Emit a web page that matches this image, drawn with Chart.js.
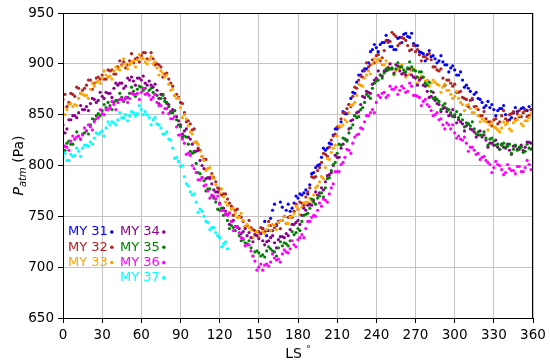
<!DOCTYPE html>
<html>
<head>
<meta charset="utf-8">
<script src="https://cdn.jsdelivr.net/npm/chart.js@4"></script>
<style>
  html, body { margin: 0; padding: 0; background: #fff; }
  #wrap { width: 550px; height: 364px; }
</style>
</head>
<body>
<div id="wrap"><canvas id="patmChart"></canvas></div>
<script>
// Pression atmosphérique (Pa) en fonction de Ls, une série par année martienne.
// Valeurs relevées à l'oeil sur la figure : un premier relevé tous les 3° de Ls,
// un second relevé (suffixe b) décalé de 1.5° pour rendre l'épaisseur du nuage de points.

const lsFull = [
  0, 3, 6, 9, 12, 15, 18, 21, 24, 27,
  30, 33, 36, 39, 42, 45, 48, 51, 54, 57,
  60, 63, 66, 69, 72, 75, 78, 81, 84, 87,
  90, 93, 96, 99, 102, 105, 108, 111, 114, 117,
  120, 123, 126, 129, 132, 135, 138, 141, 144, 147,
  150, 153, 156, 159, 162, 165, 168, 171, 174, 177,
  180, 183, 186, 189, 192, 195, 198, 201, 204, 207,
  210, 213, 216, 219, 222, 225, 228, 231, 234, 237,
  240, 243, 246, 249, 252, 255, 258, 261, 264, 267,
  270, 273, 276, 279, 282, 285, 288, 291, 294, 297,
  300, 303, 306, 309, 312, 315, 318, 321, 324, 327,
  330, 333, 336, 339, 342, 345, 348, 351, 354, 357,
  360,
];

const lsFullB = [
  1.5, 4.5, 7.5, 10.5, 13.5, 16.5, 19.5, 22.5, 25.5, 28.5,
  31.5, 34.5, 37.5, 40.5, 43.5, 46.5, 49.5, 52.5, 55.5, 58.5,
  61.5, 64.5, 67.5, 70.5, 73.5, 76.5, 79.5, 82.5, 85.5, 88.5,
  91.5, 94.5, 97.5, 100.5, 103.5, 106.5, 109.5, 112.5, 115.5, 118.5,
  121.5, 124.5, 127.5, 130.5, 133.5, 136.5, 139.5, 142.5, 145.5, 148.5,
  151.5, 154.5, 157.5, 160.5, 163.5, 166.5, 169.5, 172.5, 175.5, 178.5,
  181.5, 184.5, 187.5, 190.5, 193.5, 196.5, 199.5, 202.5, 205.5, 208.5,
  211.5, 214.5, 217.5, 220.5, 223.5, 226.5, 229.5, 232.5, 235.5, 238.5,
  241.5, 244.5, 247.5, 250.5, 253.5, 256.5, 259.5, 262.5, 265.5, 268.5,
  271.5, 274.5, 277.5, 280.5, 283.5, 286.5, 289.5, 292.5, 295.5, 298.5,
  301.5, 304.5, 307.5, 310.5, 313.5, 316.5, 319.5, 322.5, 325.5, 328.5,
  331.5, 334.5, 337.5, 340.5, 343.5, 346.5, 349.5, 352.5, 355.5, 358.5,
];

// MY 31 ne commence qu'après Ls 150
const ls31 = [
  153, 156, 159, 162, 165, 168, 171, 174, 177,
  180, 183, 186, 189, 192, 195, 198, 201, 204, 207,
  210, 213, 216, 219, 222, 225, 228, 231, 234, 237,
  240, 243, 246, 249, 252, 255, 258, 261, 264, 267,
  270, 273, 276, 279, 282, 285, 288, 291, 294, 297,
  300, 303, 306, 309, 312, 315, 318, 321, 324, 327,
  330, 333, 336, 339, 342, 345, 348, 351, 354, 357,
  360,
];

const ls31B = [
  154.5, 157.5, 160.5, 163.5, 166.5, 169.5, 172.5, 175.5, 178.5,
  181.5, 184.5, 187.5, 190.5, 193.5, 196.5, 199.5, 202.5, 205.5, 208.5,
  211.5, 214.5, 217.5, 220.5, 223.5, 226.5, 229.5, 232.5, 235.5, 238.5,
  241.5, 244.5, 247.5, 250.5, 253.5, 256.5, 259.5, 262.5, 265.5, 268.5,
  271.5, 274.5, 277.5, 280.5, 283.5, 286.5, 289.5, 292.5, 295.5, 298.5,
  301.5, 304.5, 307.5, 310.5, 313.5, 316.5, 319.5, 322.5, 325.5, 328.5,
  331.5, 334.5, 337.5, 340.5, 343.5, 346.5, 349.5, 352.5, 355.5, 358.5,
];

// MY 37 s'arrête vers Ls 126
const ls37 = [
  0, 3, 6, 9, 12, 15, 18, 21, 24, 27,
  30, 33, 36, 39, 42, 45, 48, 51, 54, 57,
  60, 63, 66, 69, 72, 75, 78, 81, 84, 87,
  90, 93, 96, 99, 102, 105, 108, 111, 114, 117,
  120, 123, 126,
];

const ls37B = [
  1.5, 4.5, 7.5, 10.5, 13.5, 16.5, 19.5, 22.5, 25.5, 28.5,
  31.5, 34.5, 37.5, 40.5, 43.5, 46.5, 49.5, 52.5, 55.5, 58.5,
  61.5, 64.5, 67.5, 70.5, 73.5, 76.5, 79.5, 82.5, 85.5, 88.5,
  91.5, 94.5, 97.5, 100.5, 103.5, 106.5, 109.5, 112.5, 115.5, 118.5,
  121.5, 124.5,
];

const my31 = [
  738, 731, 748, 762, 745, 759, 756, 755, 763,
  768, 771, 776, 781, 793, 800, 808, 815, 822, 830,
  836, 843, 851, 860, 872, 882, 889, 895, 901, 914,
  916, 919, 921, 923, 917, 914, 926, 929, 927, 930,
  918, 912, 910, 909, 907, 905, 903, 902, 899, 896,
  894, 889, 884, 879, 873, 870, 866, 862, 859, 857,
  855, 854, 856, 850, 845, 852, 853, 856, 855, 858,
  860,
];
const my31b = [
  745, 736, 756, 741, 764, 750, 762, 758, 770,
  772, 773, 772, 792, 798, 801, 817, 817, 821, 836,
  838, 853, 851, 866, 871, 889, 893, 895, 912, 919,
  912, 921, 928, 917, 914, 925, 921, 930, 926, 920,
  918, 911, 903, 913, 908, 901, 908, 899, 892, 898,
  889, 892, 877, 876, 865, 872, 865, 857, 863, 860,
  849, 856, 859, 844, 847, 857, 848, 857, 854, 855,
];

const my32 = [
  865, 858, 871, 868, 876, 874, 879, 884, 881, 887,
  889, 885, 893, 890, 897, 899, 896, 903, 901, 906,
  908, 911, 904, 905, 900, 897, 890, 885, 878, 870,
  862, 852, 844, 835, 823, 815, 806, 797, 792, 784,
  777, 772, 767, 760, 756, 750, 745, 741, 739, 736,
  735, 738, 736, 741, 739, 744, 746, 743, 750, 755,
  757, 763, 769, 778, 788, 795, 803, 811, 818, 829,
  838, 846, 852, 860, 868, 876, 888, 893, 897, 904,
  908, 903, 913, 921, 931, 927, 920, 925, 918, 914,
  912, 909, 907, 905, 904, 897, 893, 886, 884, 881,
  880, 872, 867, 865, 864, 858, 855, 849, 846, 843,
  845, 841, 849, 846, 850, 853, 851, 848, 854, 849,
  850,
];
const my32b = [
  870, 862, 870, 877, 871, 876, 884, 875, 886, 885,
  885, 894, 894, 890, 903, 902, 899, 910, 905, 902,
  911, 905, 911, 899, 899, 887, 891, 881, 869, 867,
  861, 843, 841, 836, 817, 809, 806, 787, 788, 778,
  771, 772, 763, 751, 757, 749, 740, 746, 737, 731,
  739, 735, 745, 736, 742, 738, 750, 749, 749, 762,
  764, 761, 774, 789, 789, 798, 812, 809, 825, 831,
  838, 852, 856, 858, 877, 884, 887, 901, 899, 901,
  909, 906, 923, 922, 929, 918, 926, 923, 913, 918,
  914, 903, 907, 910, 897, 894, 895, 879, 884, 878,
  872, 873, 866, 858, 866, 858, 849, 853, 843, 839,
  846, 843, 854, 844, 851, 846, 854, 852, 848, 855,
];

const my33 = [
  857, 855, 861, 860, 866, 870, 869, 875, 878, 883,
  886, 889, 888, 893, 895, 898, 900, 899, 903, 904,
  906, 902, 904, 900, 896, 893, 887, 880, 875, 866,
  857, 850, 839, 831, 823, 814, 805, 797, 790, 781,
  773, 769, 761, 757, 753, 749, 746, 742, 737, 733,
  730, 735, 737, 736, 741, 744, 746, 743, 749, 753,
  757, 759, 764, 768, 771, 780, 789, 798, 806, 817,
  829, 838, 845, 852, 860, 869, 879, 886, 893, 900,
  902, 905, 899, 897, 895, 893, 896, 891, 889, 893,
  888, 886, 887, 884, 881, 882, 879, 877, 874, 870,
  868, 866, 860, 859, 856, 852, 849, 846, 843, 840,
  838, 835, 837, 840, 836, 842, 845, 841, 844, 847,
  845,
];
const my33b = [
  850, 860, 858, 859, 871, 869, 866, 881, 882, 881,
  893, 887, 885, 897, 894, 905, 895, 901, 897, 909,
  905, 900, 907, 902, 889, 891, 889, 874, 869, 866,
  847, 846, 833, 823, 821, 809, 795, 798, 787, 774,
  777, 764, 754, 758, 749, 753, 740, 739, 729, 735,
  733, 733, 741, 742, 737, 746, 750, 743, 750, 760,
  752, 763, 764, 765, 778, 784, 787, 807, 813, 820,
  839, 840, 843, 859, 862, 880, 878, 889, 890, 905,
  904, 899, 903, 900, 889, 895, 899, 887, 890, 895,
  881, 888, 883, 878, 884, 880, 872, 880, 874, 866,
  873, 862, 854, 860, 852, 856, 843, 844, 835, 843,
  837, 833, 843, 842, 834, 844, 849, 839, 844, 851,
];

const my34 = [
  840, 836, 845, 849, 852, 855, 858, 861, 865, 864,
  868, 872, 871, 876, 879, 881, 878, 884, 883, 886,
  884, 881, 883, 877, 874, 870, 866, 860, 855, 848,
  840, 834, 828, 821, 814, 805, 797, 788, 782, 774,
  763, 758, 752, 745, 740, 738, 735, 731, 729, 732,
  728, 726, 725, 729, 724, 727, 730, 733, 737, 742,
  746, 751, 756, 762, 766, 771, 778, 784, 791, 800,
  808, 817, 826, 836, 845, 852, 860, 867, 872, 880,
  886, 889, 893, 896, 895, 899, 893, 891, 895, 889,
  886, 884, 879, 873, 868, 864, 860, 856, 853, 850,
  848, 845, 841, 839, 836, 833, 830, 828, 825, 822,
  820, 818, 821, 817, 815, 819, 816, 820, 818, 823,
  822,
];
const my34b = [
  832, 845, 849, 847, 859, 855, 854, 866, 862, 872,
  866, 871, 867, 881, 881, 876, 886, 887, 879, 886,
  888, 879, 879, 880, 866, 870, 861, 853, 854, 844,
  831, 836, 826, 814, 815, 800, 787, 788, 776, 774,
  756, 755, 742, 746, 740, 733, 738, 734, 725, 731,
  733, 722, 726, 731, 719, 730, 729, 731, 742, 744,
  742, 758, 761, 761, 774, 773, 776, 790, 793, 810,
  808, 821, 825, 844, 849, 853, 868, 873, 871, 884,
  893, 888, 893, 900, 891, 898, 890, 889, 895, 887,
  879, 886, 878, 867, 872, 861, 853, 857, 849, 855,
  842, 843, 834, 841, 835, 828, 834, 830, 818, 822,
  825, 816, 818, 821, 811, 819, 816, 815, 823, 822,
];

const my35 = [
  818, 822, 821, 826, 829, 831, 834, 840, 845, 851,
  854, 857, 859, 862, 864, 867, 866, 871, 873, 875,
  877, 876, 874, 872, 869, 866, 863, 858, 852, 845,
  838, 829, 821, 812, 802, 792, 785, 777, 770, 764,
  756, 751, 746, 741, 736, 731, 727, 723, 719, 715,
  714, 712, 716, 718, 715, 719, 721, 723, 726, 732,
  738, 745, 752, 758, 764, 768, 773, 778, 788, 801,
  812, 820, 826, 832, 840, 847, 855, 862, 868, 876,
  883, 889, 891, 894, 896, 895, 897, 894, 896, 897,
  893, 892, 887, 879, 873, 867, 863, 859, 856, 852,
  850, 847, 845, 842, 839, 836, 833, 830, 827, 826,
  824, 821, 820, 818, 821, 816, 815, 818, 814, 817,
  818,
];
const my35b = [
  815, 824, 821, 833, 826, 832, 831, 846, 849, 849,
  860, 862, 855, 864, 871, 863, 867, 877, 868, 878,
  874, 871, 876, 870, 861, 869, 862, 852, 854, 840,
  828, 828, 814, 813, 793, 788, 775, 777, 768, 757,
  758, 752, 738, 739, 739, 726, 724, 726, 711, 716,
  711, 710, 720, 716, 711, 725, 724, 721, 735, 734,
  736, 751, 753, 767, 762, 770, 769, 787, 795, 803,
  821, 827, 824, 837, 849, 848, 857, 870, 866, 881,
  884, 886, 895, 895, 890, 901, 897, 892, 902, 894,
  887, 892, 881, 882, 866, 865, 855, 861, 855, 848,
  853, 850, 838, 841, 843, 831, 830, 833, 820, 827,
  820, 816, 822, 819, 812, 820, 818, 813, 821, 816,
];

const my36 = [
  820, 818, 824, 826, 829, 830, 834, 838, 843, 847,
  851, 855, 857, 860, 862, 865, 867, 866, 870, 871,
  872, 870, 869, 867, 862, 859, 856, 851, 846, 838,
  830, 822, 812, 800, 793, 786, 780, 775, 771, 767,
  762, 756, 751, 745, 740, 734, 728, 722, 716, 706,
  700, 697, 703, 705, 709, 708, 713, 715, 718, 722,
  727, 732, 738, 745, 751, 756, 760, 766, 772, 782,
  794, 801, 808, 815, 822, 830, 837, 843, 849, 855,
  862, 867, 872, 869, 875, 877, 874, 876, 873, 878,
  869, 867, 863, 860, 854, 850, 845, 840, 842, 836,
  832, 829, 825, 822, 818, 815, 812, 808, 805, 801,
  798, 801, 796, 793, 797, 795, 799, 794, 798, 801,
  800,
];
const my36b = [
  819, 815, 829, 828, 826, 837, 840, 835, 846, 855,
  850, 855, 863, 855, 865, 864, 862, 871, 870, 865,
  876, 871, 865, 870, 859, 852, 856, 846, 848, 830,
  826, 811, 810, 797, 786, 788, 781, 768, 770, 770,
  756, 752, 753, 736, 739, 729, 721, 722, 711, 697,
  703, 702, 701, 713, 707, 705, 717, 714, 726, 720,
  729, 729, 745, 749, 750, 763, 767, 764, 778, 794,
  794, 803, 816, 812, 828, 831, 836, 849, 852, 852,
  869, 871, 867, 878, 875, 870, 878, 872, 881, 869,
  868, 859, 865, 858, 849, 852, 846, 836, 840, 840,
  827, 826, 828, 814, 818, 811, 806, 809, 803, 793,
  804, 800, 791, 801, 795, 792, 799, 794, 805, 796,
];

const my37 = [
  808, 805, 811, 810, 814, 817, 820, 823, 827, 831,
  834, 837, 840, 842, 845, 847, 850, 849, 852, 851,
  855, 853, 847, 845, 841, 837, 831, 826, 817, 808,
  799, 789, 780, 771, 764, 757, 750, 744, 739, 734,
  729, 723, 718,
];
const my37b = [
  812, 805, 809, 817, 809, 820, 819, 821, 832, 832,
  829, 843, 843, 840, 852, 847, 844, 853, 849, 859,
  850, 850, 840, 847, 840, 831, 833, 825, 807, 804,
  800, 782, 774, 772, 754, 755, 745, 737, 739, 731,
  720, 725,
];

const xTicks = [0, 30, 60, 90, 120, 150, 180, 210, 240, 270, 300, 330, 360];
const yTicks = [650, 700, 750, 800, 850, 900, 950];

const FONT = "'DejaVu Sans', sans-serif";

const series = [
  { label: 'MY 31', color: '#0000ff', ls: ls31,   values: my31, lsB: ls31B,   valuesB: my31b },
  { label: 'MY 32', color: '#b22222', ls: lsFull, values: my32, lsB: lsFullB, valuesB: my32b },
  { label: 'MY 33', color: '#ffa500', ls: lsFull, values: my33, lsB: lsFullB, valuesB: my33b },
  { label: 'MY 34', color: '#8b008b', ls: lsFull, values: my34, lsB: lsFullB, valuesB: my34b },
  { label: 'MY 35', color: '#008000', ls: lsFull, values: my35, lsB: lsFullB, valuesB: my35b },
  { label: 'MY 36', color: '#ff00ff', ls: lsFull, values: my36, lsB: lsFullB, valuesB: my36b },
  { label: 'MY 37', color: '#00ffff', ls: ls37,   values: my37, lsB: ls37B,   valuesB: my37b },
];

// Chart.js dessine le premier dataset au-dessus : on inverse pour que MY 37 soit devant
const datasets = series.map((s, i) => ({
  label: s.label,
  data: [
    ...s.ls.map((x, j) => ({ x, y: s.values[j] })),
    ...s.lsB.map((x, j) => ({ x, y: s.valuesB[j] })),
  ],
  backgroundColor: s.color,
  borderWidth: 0,
  pointRadius: 1.6,
  pointHoverRadius: 0,
  order: series.length - i,
}));

// --- cadre complet, légende en deux colonnes, titres avec indice / exposant ---
const decorations = {
  id: 'decorations',
  afterDatasetsDraw(chart) {
    const { ctx, chartArea: a } = chart;
    ctx.save();

    ctx.strokeStyle = '#000';
    ctx.lineWidth = 1;
    ctx.strokeRect(Math.round(a.left) + 0.5, Math.round(a.top) + 0.5,
                   Math.round(a.right - a.left) - 1, Math.round(a.bottom - a.top));

    // légende : MY 31-33 à gauche, MY 34-37 à droite
    ctx.font = `13px ${FONT}`;
    ctx.textBaseline = 'middle';
    series.forEach((s, i) => {
      const col = i < 3 ? 0 : 1;
      const row = i < 3 ? i : i - 3;
      const x = a.left + 5 + col * 52;
      const y = a.top + 219 + row * 15.3;
      ctx.fillStyle = s.color;
      ctx.fillText(s.label, x, y);
      const w = ctx.measureText(s.label).width;
      ctx.beginPath();
      ctx.arc(x + w + 4, y, 1.8, 0, Math.PI * 2);
      ctx.fill();
    });

    // titre axe y : P_atm (Pa)
    ctx.fillStyle = '#000';
    ctx.textBaseline = 'alphabetic';
    ctx.translate(18, (a.top + a.bottom) / 2);
    ctx.rotate(-Math.PI / 2);
    ctx.font = `italic 14px ${FONT}`;
    const wP = ctx.measureText('P').width;
    ctx.font = `italic 10px ${FONT}`;
    const wSub = ctx.measureText('atm').width;
    ctx.font = `14px ${FONT}`;
    const wRest = ctx.measureText(' (Pa)').width;
    let tx = -(wP + wSub + wRest) / 2;
    ctx.font = `italic 14px ${FONT}`;
    ctx.fillText('P', tx, 5);
    tx += wP;
    ctx.font = `italic 10px ${FONT}`;
    ctx.fillText('atm', tx, 8);
    tx += wSub;
    ctx.font = `14px ${FONT}`;
    ctx.fillText(' (Pa)', tx, 5);
    ctx.restore();

    // titre axe x : LS°
    ctx.save();
    ctx.fillStyle = '#000';
    ctx.font = `14px ${FONT}`;
    const wLs = ctx.measureText('LS ').width;
    ctx.font = `9px ${FONT}`;
    const wDeg = ctx.measureText('°').width;
    const cx = (a.left + a.right) / 2 - (wLs + wDeg) / 2;
    ctx.font = `14px ${FONT}`;
    ctx.fillText('LS ', cx, 358);
    ctx.font = `9px ${FONT}`;
    ctx.fillText('°', cx + wLs, 352);
    ctx.restore();
  },
};

const tickFont = { family: FONT, size: 13.5 };

new Chart(document.getElementById('patmChart'), {
  type: 'scatter',
  data: { datasets },
  options: {
    responsive: true,
    maintainAspectRatio: false,
    animation: false,
    events: [],
    layout: { padding: { top: 13, right: 17, left: 0, bottom: 0 } },
    plugins: { legend: { display: false }, tooltip: { enabled: false } },
    scales: {
      x: {
        type: 'linear',
        min: 0,
        max: 360,
        afterBuildTicks: (scale) => { scale.ticks = xTicks.map((v) => ({ value: v })); },
        afterFit: (scale) => { scale.height = 46; },
        ticks: { color: '#000', font: tickFont, padding: 4, maxRotation: 0, autoSkip: false },
        grid: { color: '#c4c4c4', lineWidth: 1, tickColor: '#000', tickLength: 5 },
        border: { display: false },
      },
      y: {
        type: 'linear',
        min: 650,
        max: 950,
        afterBuildTicks: (scale) => { scale.ticks = yTicks.map((v) => ({ value: v })); },
        afterFit: (scale) => { scale.width = 63; },
        ticks: { color: '#000', font: tickFont, padding: 4, autoSkip: false },
        grid: { color: '#c4c4c4', lineWidth: 1, tickColor: '#000', tickLength: 5 },
        border: { display: false },
      },
    },
  },
  plugins: [decorations],
});
</script>
</body>
</html>
